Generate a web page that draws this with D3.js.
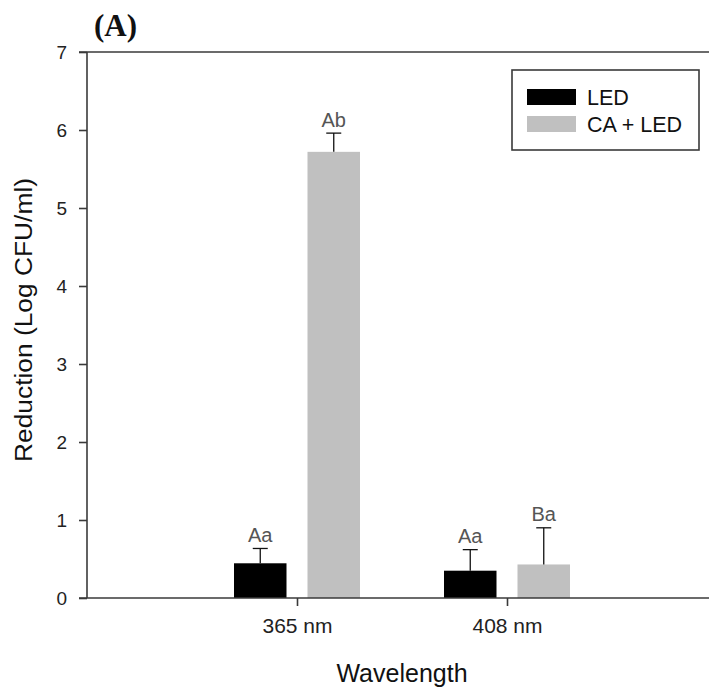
<!DOCTYPE html>
<html>
<head>
<meta charset="utf-8">
<script src="https://cdn.jsdelivr.net/npm/d3@7"></script>
<style>
  html, body { margin: 0; padding: 0; background: #fff; }
  svg { display: block; }
  text { font-family: "Liberation Sans", Arial, sans-serif; }
</style>
</head>
<body>
<svg id="chart" width="709" height="693"></svg>
<script>
// Log reduction by wavelength, with and without CA
const categories = ["365 nm", "408 nm"];
const seriesNames = ["LED", "CA + LED"];
const seriesColors = ["#000000", "#c0c0c0"];
const ledValues = [0.445, 0.35];
const ledErrors = [0.19, 0.27];
const caLedValues = [5.72, 0.43];
const caLedErrors = [0.24, 0.47];
const ledLetters = ["Aa", "Aa"];
const caLedLetters = ["Ab", "Ba"];
const yTicks = [0, 1, 2, 3, 4, 5, 6, 7];

const series = [
  { name: seriesNames[0], color: seriesColors[0], values: ledValues, errors: ledErrors, letters: ledLetters, offset: -1 },
  { name: seriesNames[1], color: seriesColors[1], values: caLedValues, errors: caLedErrors, letters: caLedLetters, offset: 1 }
];

const svg = d3.select("#chart");
const axisColor = "#3a3a3a";

// categories sit at positions 1 and 2 on a 0..3 axis
const x = d3.scaleLinear().domain([0, 3]).range([87, 717]);
const y = d3.scaleLinear().domain([0, 7]).range([598, 52]);
const barW = 0.25;       // bar width in axis units
const barShift = 0.175;  // centre offset of each bar from its category

// frame: top line and left/bottom axes
svg.append("line")
  .attr("x1", 79).attr("x2", 709).attr("y1", y(7)).attr("y2", y(7))
  .attr("stroke", axisColor).attr("stroke-width", 1.6);

// bars
series.forEach(s => {
  const g = svg.append("g");
  categories.forEach((c, i) => {
    const cx = i + 1 + s.offset * barShift;
    g.append("rect")
      .attr("x", x(cx - barW / 2))
      .attr("width", x(cx + barW / 2) - x(cx - barW / 2))
      .attr("y", y(s.values[i]))
      .attr("height", y(0) - y(s.values[i]))
      .attr("fill", s.color);
    // upper error bar with cap
    const top = y(s.values[i] + s.errors[i]);
    g.append("line")
      .attr("x1", x(cx)).attr("x2", x(cx))
      .attr("y1", y(s.values[i])).attr("y2", top)
      .attr("stroke", "#111").attr("stroke-width", 1.3);
    g.append("line")
      .attr("x1", x(cx) - 7.5).attr("x2", x(cx) + 7.5)
      .attr("y1", top).attr("y2", top)
      .attr("stroke", "#111").attr("stroke-width", 1.3);
    // significance letters
    g.append("text")
      .attr("x", x(cx)).attr("y", top - 6.5)
      .attr("text-anchor", "middle")
      .attr("font-size", 20)
      .attr("fill", "#555")
      .text(s.letters[i]);
  });
});

// y axis
const yAxis = svg.append("g")
  .attr("transform", `translate(${x(0)},0)`)
  .call(d3.axisLeft(y).tickValues(yTicks).tickSize(8).tickPadding(12).tickFormat(d3.format("d")));
yAxis.select(".domain").attr("stroke", axisColor).attr("stroke-width", 1.6).attr("d", `M0,${y(7)}V${y(0)}`);
yAxis.selectAll(".tick line").attr("stroke", axisColor).attr("stroke-width", 1.6);
yAxis.selectAll(".tick text")
  .attr("font-size", 19).attr("fill", "#222")
  .style("font-family", "'Liberation Sans', Arial, sans-serif");

// x axis
const xAxis = svg.append("g")
  .attr("transform", `translate(0,${y(0)})`)
  .call(d3.axisBottom(x).tickValues([1, 2]).tickSize(8).tickPadding(12).tickFormat(d => categories[d - 1]));
xAxis.select(".domain").attr("stroke", axisColor).attr("stroke-width", 1.6).attr("d", `M79,0H709`);
xAxis.selectAll(".tick line").attr("stroke", axisColor).attr("stroke-width", 1.6);
xAxis.selectAll(".tick text")
  .attr("font-size", 21).attr("fill", "#222")
  .style("font-family", "'Liberation Sans', Arial, sans-serif");

// axis titles
svg.append("text")
  .attr("x", 402).attr("y", 682)
  .attr("text-anchor", "middle")
  .attr("font-size", 25).attr("fill", "#111")
  .text("Wavelength");

svg.append("text")
  .attr("transform", "translate(32,320) rotate(-90)")
  .attr("text-anchor", "middle")
  .attr("font-size", 23).attr("fill", "#111")
  .attr("textLength", 284).attr("lengthAdjust", "spacingAndGlyphs")
  .text("Reduction (Log CFU/ml)");

// panel label
svg.append("text")
  .attr("x", 94).attr("y", 36)
  .style("font-family", "'Liberation Serif', 'Times New Roman', serif")
  .attr("font-weight", "bold")
  .attr("font-size", 31).attr("fill", "#111")
  .text("(A)");

// legend
const legend = svg.append("g");
legend.append("rect")
  .attr("x", 512).attr("y", 70).attr("width", 187).attr("height", 80)
  .attr("fill", "#fff").attr("stroke", axisColor).attr("stroke-width", 1.6);
series.forEach((s, i) => {
  legend.append("rect")
    .attr("x", 527).attr("y", 89 + i * 27).attr("width", 49).attr("height", 16)
    .attr("fill", s.color);
  legend.append("text")
    .attr("x", 587).attr("y", 104.5 + i * 27)
    .attr("font-size", 21.5).attr("fill", "#111")
    .text(s.name);
});
</script>
</body>
</html>
